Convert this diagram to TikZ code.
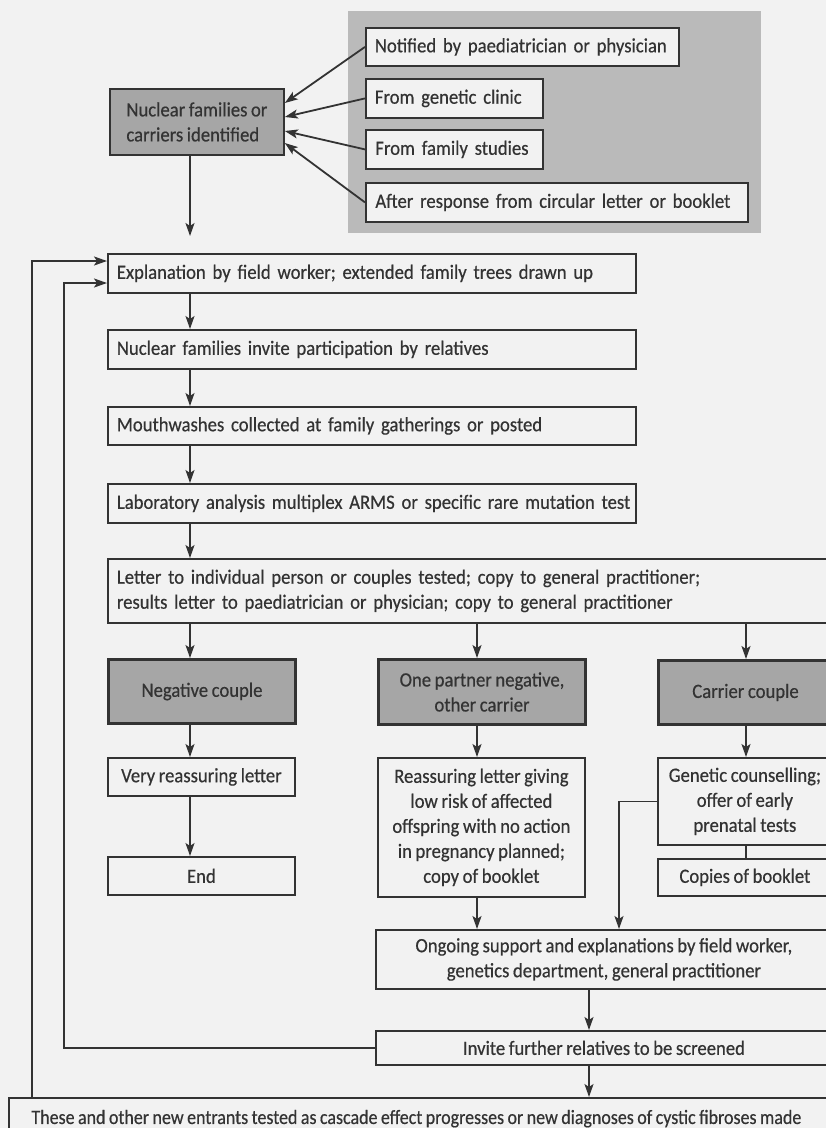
\documentclass[tikz,border=0pt]{standalone}
\usepackage{fontspec}
\setmainfont{Carlito}[FakeStretch=0.92,FakeBold=0.5,WordSpace=0.85]
\newfontfamily\narrowfont{Carlito}[FakeStretch=0.885,FakeBold=0.5,WordSpace=0.85]
\usetikzlibrary{arrows.meta,calc}
\definecolor{ink}{gray}{0.2}
\definecolor{paper}{gray}{0.95}
\definecolor{shade}{gray}{0.65}
\definecolor{bgshade}{gray}{0.73}
\begin{document}
\begin{tikzpicture}[x=1pt,y=-1pt,
  every node/.style={font=\fontsize{20.3}{25}\selectfont, text=ink},
  box/.style={draw=ink, line width=1.8pt, fill=paper, anchor=north west},
  lbx/.style 2 args={box, inner ysep=0pt, inner xsep=10pt, text width=#1, minimum height=#2, align=left},
  cbx/.style 2 args={box, inner sep=0pt, minimum width=#1, minimum height=#2, align=center},
  shaded/.style={fill=shade},
  thick box/.style={line width=3pt},
  arr/.style={draw=ink, line width=1.8pt, -{Stealth[length=13pt,width=9pt,inset=3pt]}},
  link/.style={draw=ink, line width=1.8pt}]
\useasboundingbox (0,0) rectangle (826,1128);
\clip (0,0) rectangle (826,1128);
\fill[paper] (0,0) rectangle (826,1128);
% shaded background behind the sources
\fill[bgshade] (348,11) rectangle (761,233);
% sources
\node[lbx={295pt}{38pt}, inner xsep=9pt] (src1) at (365,27) {\mbox{Notified by paediatrician or physician}};
\node[lbx={159pt}{39pt}, inner xsep=9pt] (src2) at (365,78) {\mbox{From genetic clinic}};
\node[lbx={158pt}{39pt}, inner xsep=9.5pt] (src3) at (365,129) {\mbox{From family studies}};
\node[lbx={363pt}{39pt}, inner xsep=9.5pt] (src4) at (365,182) {\mbox{After response from circular letter or booklet}};
\node[cbx={174pt}{66pt}, shaded, align=left] (nuc) at (109,88) {Nuclear families or\\carriers identified};
% main column
\node[lbx={510pt}{39pt}, inner xsep=9pt] (expl) at (107,253) {\mbox{Explanation by field worker; extended family trees drawn up}};
\node[lbx={510pt}{39pt}, inner xsep=9pt] (inv) at (107,329) {\mbox{Nuclear families invite participation by relatives}};
\node[lbx={510pt}{38pt}, inner xsep=9pt] (mouth) at (107,406) {\mbox{Mouthwashes collected at family gatherings or posted}};
\node[lbx={510pt}{39pt}, inner xsep=9pt] (lab) at (107,483) {\mbox{Laboratory analysis multiplex ARMS or specific rare mutation test}};
\node[lbx={706pt}{64pt}, inner xsep=9pt] (letter) at (107,558) {\mbox{Letter to individual person or couples tested; copy to general practitioner;}\\\mbox{results letter to paediatrician or physician; copy to general practitioner}};
% outcomes
\node[cbx={187pt}{64pt}, shaded, thick box] (neg) at (107,658) {Negative couple};
\node[cbx={207pt}{65pt}, shaded, thick box] (one) at (377,658) {One partner negative,\\other carrier};
\node[cbx={174pt}{64pt}, shaded, thick box] (carrier) at (657,659) {Carrier couple};
\node[cbx={187pt}{38pt}] (vrl) at (107,757) {Very reassuring letter};
\node[cbx={187pt}{38pt}] (end) at (107,856) {End};
\node[cbx={207pt}{139pt}] (reas) at (377,757) {Reassuring letter giving\\low risk of affected\\offspring with no action\\in pregnancy planned;\\copy of booklet};
\node[cbx={174pt}{87pt}] (gen) at (657,757) {Genetic counselling;\\offer of early\\prenatal tests};
\node[cbx={174pt}{37pt}] (copies) at (657,858) {Copies of booklet};
\node[cbx={456pt}{59pt}] (ongo) at (375,929) {Ongoing support and explanations by field worker,\\genetics department, general practitioner};
\node[cbx={456pt}{34pt}] (invite) at (375,1030) {Invite further relatives to be screened};
\node[cbx={823pt}{50pt}] (these) at (8,1097) {\narrowfont\raisebox{12pt}{\hspace*{-8pt}These and other new entrants tested as cascade effect progresses or new diagnoses of cystic fibroses made}};
% guide coordinates
\coordinate (cx) at (190,0);
\coordinate (ox) at (477,0);
\coordinate (rx) at (746,0);
\coordinate (gx) at (619,0);
\coordinate (bx) at (589,0);
\coordinate (nucend) at (190,236);
\coordinate (loopA) at (64,283);
\coordinate (loopB) at (32,261);
% source arrows
\draw[arr] (src1.west) -- ($(nuc.north east)+(0,15)$);
\draw[arr] (src2.west) -- ($(nuc.north east)+(0,29)$);
\draw[arr] (src3.west) -- ($(nuc.north east)+(0,43)$);
\draw[arr] (src4.west) -- ($(nuc.north east)+(0,55)$);
\draw[arr] (nuc.south -| cx) -- (nucend);
% main column arrows
\draw[arr] (expl.south -| cx) -- (inv.north -| cx);
\draw[arr] (inv.south -| cx) -- (mouth.north -| cx);
\draw[arr] (mouth.south -| cx) -- (lab.north -| cx);
\draw[arr] (lab.south -| cx) -- (letter.north -| cx);
\draw[arr] (letter.south -| cx) -- (neg.north -| cx);
\draw[arr] (letter.south -| ox) -- (one.north -| ox);
\draw[arr] (letter.south -| rx) -- (carrier.north -| rx);
\draw[arr] (neg.south -| cx) -- (vrl.north -| cx);
\draw[arr] (vrl.south -| cx) -- (end.north -| cx);
\draw[arr] (one.south -| ox) -- (reas.north -| ox);
\draw[arr] (carrier.south -| rx) -- (gen.north -| rx);
\draw[link] (gen.south -| rx) -- (copies.north -| rx);
\draw[arr] (reas.south -| ox) -- (ongo.north -| ox);
\draw[arr] (gen.west) -| (ongo.north -| gx);
\draw[arr] (ongo.south -| bx) -- (invite.north -| bx);
\draw[arr] (invite.south -| bx) -- (these.north -| bx);
% feedback loops
\draw[arr] (invite.west) -| (loopA) -- (loopA -| expl.west);
\draw[arr] (these.north -| loopB) -- (loopB) -- (loopB -| expl.west);
\end{tikzpicture}
\end{document}
